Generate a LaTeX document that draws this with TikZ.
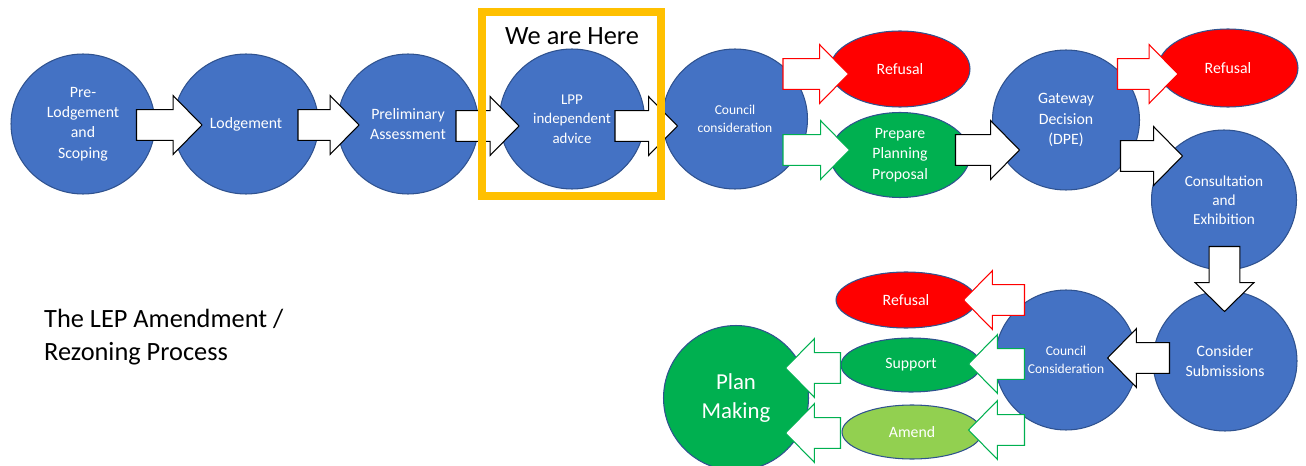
\documentclass[tikz,border=0pt]{standalone}
\usepackage{fontspec}
\setmainfont{Carlito}
\usetikzlibrary{shapes.geometric,calc}
\definecolor{stageblue}{HTML}{4472C4}
\definecolor{rimblue}{HTML}{2F528F}
\definecolor{refusered}{HTML}{FF0000}
\definecolor{okgreen}{HTML}{00B050}
\definecolor{amendgreen}{HTML}{92D050}
\definecolor{herebox}{HTML}{FFC000}
\tikzset{
  stage/.style={ellipse, draw=rimblue, line width=0.6pt, fill=stageblue, text=white,
    inner sep=0pt, minimum width=2.9cm, minimum height=2.8cm, align=center,
    font=\fontsize{9}{11.6}\selectfont},
  blk/.style={draw=#1, fill=white, line width=0.6pt, line join=miter,
    to path={let \p1=(\tikztostart), \p2=(\tikztotarget),
      \n1={atan2(\y2-\y1,\x2-\x1)}, \n2={veclen(\x2-\x1,\y2-\y1)} in
      {[shift={(\p1)}, rotate=\n1]
        (0pt,-8.8pt) -- (\n2-16.4pt,-8.8pt) -- (\n2-16.4pt,-16.7pt) -- (\n2,0pt)
        -- (\n2-16.4pt,16.7pt) -- (\n2-16.4pt,8.8pt) -- (0pt,8.8pt) -- cycle}}},
  blk/.default=black
}
\newcommand{\stagenode}[6][]{\node[stage,minimum width=#4,#1] (#5) at (#2,#3) {#6};}
\newcommand{\outnode}[6]{\node[stage,fill=#3,minimum width=2.8cm,minimum height=#4] (#5) at (#1,#2) {#6};}
\newcommand{\fedge}[5]{\draw[blk=#1] ([shift={#3}]#2) to ([shift={#5}]#4);}

\begin{document}
\begin{tikzpicture}[x=0.02cm,y=-0.02cm]
	\useasboundingbox (0,0) rectangle (1306,466);
	% top row
	\stagenode{83}{124}{2.88cm}{pre}{Pre-\\Lodgement\\and\\Scoping}
	\stagenode{246}{124}{2.9cm}{lodge}{Lodgement}
	\stagenode{408}{124}{2.82cm}{prelim}{Preliminary\\Assessment}
	\stagenode[font=\fontsize{8.5}{11}\selectfont]{572}{119}{2.9cm}{lpp}{LPP\\independent\\advice}
	\stagenode[font=\fontsize{7.7}{10}\selectfont]{735}{119}{2.9cm}{council}{Council\\consideration}
	\outnode{900}{69}{refusered}{1.52cm}{refA}{Refusal}
	\outnode{900}{155}{okgreen}{1.7cm}{prep}{Prepare\\Planning\\Proposal}
	\stagenode{1066}{120}{2.94cm}{gate}{Gateway\\Decision\\(DPE)}
	\outnode{1228}{68}{refusered}{1.56cm}{refB}{Refusal}
	\stagenode[font=\fontsize{8.7}{10.8}\selectfont]{1224}{200}{2.9cm}{consult}{Consultation\\and\\Exhibition}
	% bottom row
	\stagenode{1225}{361}{2.88cm}{subm}{Consider\\Submissions}
	\stagenode[font=\fontsize{7.7}{10}\selectfont]{1066}{360}{2.84cm}{council2}{Council\\Consideration}
	\outnode{906}{300}{refusered}{1.12cm}{refC}{Refusal}
	\outnode{911}{365}{okgreen}{1.08cm}{support}{Support}
	\outnode{912}{432}{amendgreen}{1.08cm}{amend}{Amend}
	\stagenode[fill=okgreen,minimum height=2.9cm,font=\fontsize{13}{17}\selectfont]{736}{398}{2.9cm}{plan}{Plan\\Making}
	% flow arrows
	\fedge{black}{pre.east}{(-19,1)}{lodge.west}{(29,1)}
	\fedge{black}{lodge.east}{(-21,1)}{prelim.west}{(22,1)}
	\fedge{black}{prelim.east}{(-23,2)}{lpp.west}{(20,7)}
	\fedge{black}{lpp.east}{(-30,7)}{council.west}{(15.5,7)}
	\fedge{refusered}{council.east}{(-25,-45)}{refA.west}{(19,5)}
	\fedge{okgreen}{council.east}{(-25,31)}{prep.west}{(20,-5)}
	\fedge{black}{prep.east}{(-15,-5)}{gate.west}{(27.5,30)}
	\fedge{refusered}{gate.east}{(-22.5,-46)}{refB.west}{(20.5,6)}
	\fedge{black}{gate.east}{(-19.5,36)}{consult.west}{(31.5,-44)}
	\fedge{black}{consult.south}{(0.5,-24)}{subm.north}{(-0.5,21)}
	\fedge{black}{subm.west}{(17,-3)}{council2.east}{(-30,-2)}
	\fedge{refusered}{council2.west}{(30,-60)}{refC.east}{(-13,0)}
	\fedge{okgreen}{council2.west}{(30,4)}{support.east}{(-13,-1)}
	\fedge{okgreen}{council2.west}{(30,70)}{amend.east}{(-14,-2)}
	\fedge{okgreen}{support.west}{(0,3)}{plan.east}{(-23.5,-30)}
	\fedge{okgreen}{amend.west}{(-1,1)}{plan.east}{(-23.5,35)}
	% we are here
	\draw[herebox, line width=0.16cm] (482,12) rectangle (661,196);
	\node[font=\fontsize{15}{18}\selectfont] (here) at (572,36) {We are Here};
	\node[font=\fontsize{15}{18.7}\selectfont, align=left, anchor=west] (title) at (38,337) {The LEP Amendment /\\Rezoning Process};
\end{tikzpicture}
\end{document}
